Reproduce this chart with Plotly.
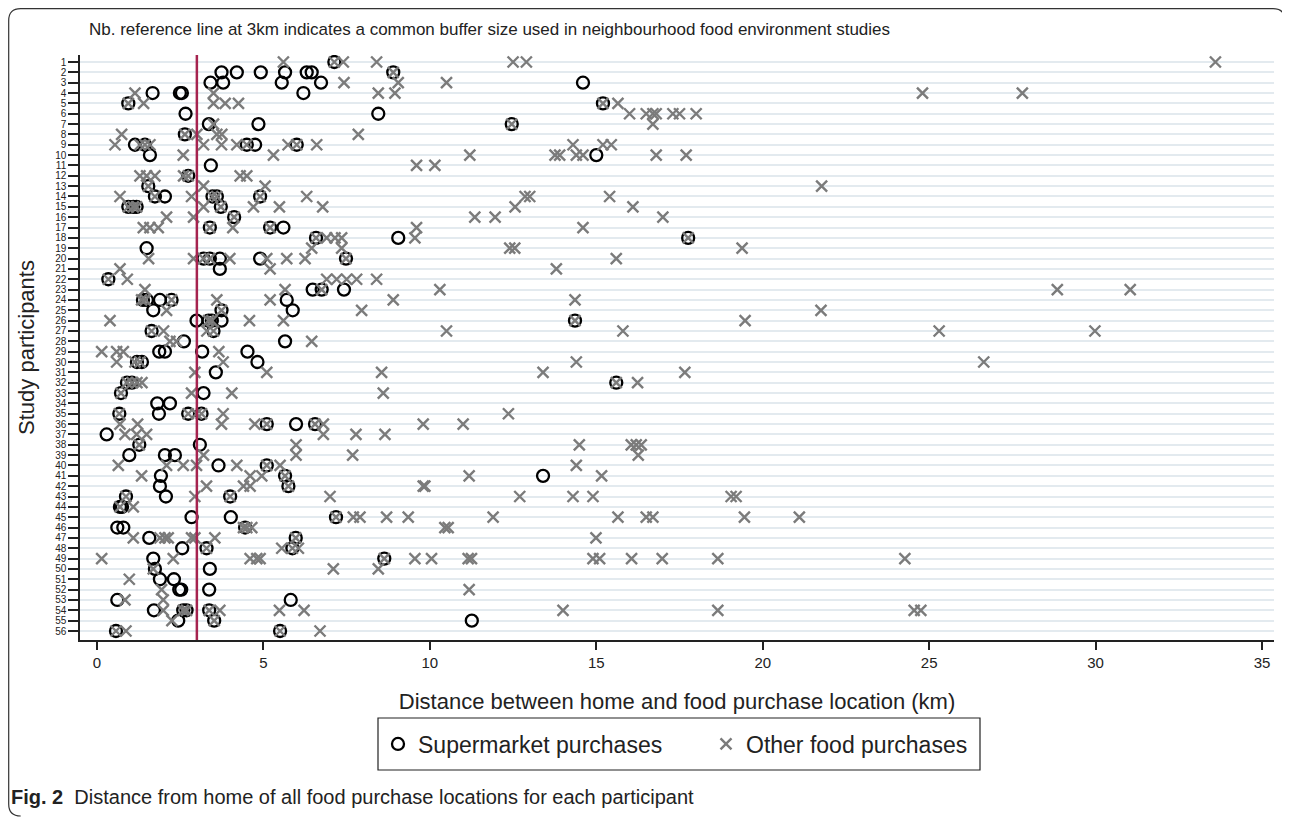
import plotly.graph_objects as go

# ---------------- data (km), one list per participant 1..56 ----------------
participants = list(range(1, 57))

supermarket_km = [
    [7.13],
    [3.74, 4.2, 4.92, 5.65, 6.3, 6.45, 8.9],
    [3.41, 3.79, 5.55, 6.73, 14.6],
    [1.67, 2.49, 2.55, 6.2],
    [0.94, 15.2],
    [2.66, 8.45],
    [3.36, 4.85, 12.46],
    [2.64],
    [1.14, 1.44, 4.5, 4.75, 6.0],
    [1.59, 15.0],
    [3.42],
    [2.74],
    [1.54],
    [1.74, 2.04, 3.47, 3.6, 4.9],
    [0.94, 1.09, 1.19, 3.72],
    [4.12],
    [3.39, 5.2, 5.6],
    [6.58, 9.05, 17.76],
    [1.49],
    [3.2, 3.39, 3.69, 4.9, 7.48],
    [3.69],
    [0.34],
    [6.48, 6.75, 7.42],
    [1.38, 1.5, 1.89, 2.24, 5.7],
    [1.69, 3.74, 5.88],
    [2.99, 3.35, 3.45, 3.74, 14.36],
    [1.64, 3.5],
    [2.61, 5.65],
    [1.87, 2.04, 3.16, 4.52],
    [1.2, 1.35, 4.82],
    [3.57],
    [0.9, 1.05, 15.6],
    [0.72, 3.2],
    [1.81, 2.19],
    [0.67, 1.86, 2.74, 3.14],
    [5.1, 5.98, 6.55],
    [0.29],
    [1.27, 3.09],
    [0.97, 2.04, 2.34],
    [3.65, 5.1],
    [1.92, 5.65, 13.4],
    [1.89, 5.75],
    [0.87, 2.07, 4.0],
    [0.69, 0.75],
    [2.84, 4.02, 7.18],
    [0.61, 0.79, 4.45],
    [1.57, 5.97],
    [2.56, 3.29, 5.87],
    [1.69, 8.63],
    [1.74, 3.39],
    [1.89, 2.31],
    [2.47, 2.53, 3.37],
    [0.61, 5.82],
    [1.71, 2.59, 2.69, 3.37],
    [2.44, 3.52, 11.26],
    [0.57, 5.5],
]

other_km = [
    [5.6, 7.13, 7.4, 8.4, 12.5, 12.9, 33.6],
    [8.9],
    [7.42, 9.05, 10.5],
    [1.14, 3.5, 8.45, 8.95, 24.8, 27.8],
    [0.94, 1.4, 3.5, 3.85, 4.25, 15.2, 15.65],
    [16.0, 16.5, 16.7, 16.8, 17.3, 17.5, 18.0],
    [3.5, 12.46, 16.7],
    [0.74, 2.64, 3.0, 3.6, 3.75, 7.85],
    [0.54, 1.29, 1.44, 1.59, 3.2, 3.74, 4.2, 4.5, 5.74, 6.0, 6.6, 14.3, 15.2, 15.45],
    [2.59, 5.3, 11.2, 13.76, 13.9, 14.4, 14.6, 16.8, 17.7],
    [9.6, 10.15],
    [1.29, 1.49, 1.74, 2.6, 2.74, 4.3, 4.5],
    [1.54, 3.2, 5.05, 21.77],
    [0.69, 1.74, 2.84, 3.47, 3.6, 4.9, 6.3, 12.86, 13.0, 15.4],
    [0.94, 1.09, 1.19, 3.2, 3.72, 4.7, 5.48, 6.78, 12.56, 16.1],
    [2.09, 2.9, 4.12, 11.35, 11.96, 17.0],
    [1.39, 1.59, 1.84, 3.39, 4.08, 5.2, 9.6, 14.6],
    [6.58, 6.9, 7.15, 7.35, 9.55, 17.76],
    [6.45, 7.35, 12.4, 12.55, 19.38],
    [1.55, 2.9, 3.2, 3.39, 3.99, 5.1, 5.7, 6.25, 7.48, 15.6],
    [0.69, 5.2, 13.8],
    [0.34, 0.91, 6.9, 7.2, 7.5, 7.8, 8.4],
    [1.44, 5.65, 6.75, 10.3, 28.85, 31.04],
    [1.34, 1.45, 2.24, 3.6, 5.2, 8.9, 14.36],
    [2.09, 3.74, 7.95, 21.75],
    [0.39, 3.35, 3.45, 4.58, 5.6, 14.36, 19.47],
    [1.64, 2.0, 3.3, 3.5, 10.5, 15.8, 25.3, 29.98],
    [2.19, 2.39, 6.45],
    [0.14, 0.59, 0.79, 3.66],
    [0.59, 1.14, 1.29, 3.79, 14.4, 26.64],
    [2.94, 5.1, 8.55, 13.4, 17.66],
    [0.9, 1.05, 1.2, 1.35, 15.6, 16.24],
    [0.72, 2.84, 4.05, 8.6],
    [],
    [0.67, 2.74, 2.99, 3.14, 3.79, 12.36],
    [0.69, 1.22, 3.74, 4.74, 5.1, 6.55, 6.8, 9.8, 11.0],
    [0.84, 1.19, 1.49, 6.8, 7.78, 8.65],
    [1.27, 5.98, 14.49, 16.05, 16.2, 16.35],
    [3.2, 5.98, 7.68, 16.26],
    [0.64, 2.09, 2.59, 2.99, 4.2, 5.1, 5.5, 14.4],
    [1.34, 4.6, 4.95, 5.65, 11.18, 15.16],
    [3.29, 4.4, 4.6, 5.75, 9.8, 9.85],
    [0.87, 2.94, 4.0, 7.0, 12.7, 14.3, 14.9, 19.05, 19.2],
    [0.69, 1.09],
    [7.18, 7.7, 7.9, 8.7, 9.35, 11.9, 15.65, 16.5, 16.7, 19.45, 21.1],
    [4.4, 4.5, 4.65, 10.45, 10.55],
    [1.09, 1.89, 2.04, 2.14, 2.84, 2.94, 3.54, 5.97, 14.99],
    [3.29, 5.55, 5.87, 6.05],
    [0.14, 2.29, 4.6, 4.8, 4.9, 8.63, 9.55, 10.05, 11.15, 11.25, 14.9, 15.1, 16.06, 16.98, 18.65, 24.27],
    [1.69, 7.1, 8.45],
    [0.97],
    [1.94, 11.18],
    [0.84, 1.99],
    [1.99, 2.59, 2.69, 3.37, 3.69, 5.48, 6.22, 14.0, 18.65, 24.55, 24.75],
    [2.25, 3.52],
    [0.57, 0.87, 5.5, 6.7],
]

x_ticks = [0, 5, 10, 15, 20, 25, 30, 35]
reference_km = 3

# ---------------- flatten ----------------
sx, sy, ox, oy = [], [], [], []
for p, vals in zip(participants, supermarket_km):
    sx += vals
    sy += [p] * len(vals)
for p, vals in zip(participants, other_km):
    ox += vals
    oy += [p] * len(vals)

FONT = "Liberation Sans, Arial, sans-serif"

fig = go.Figure()
fig.add_trace(go.Scatter(
    x=sx, y=sy, mode="markers", name="Supermarket purchases", legend="legend",
    marker=dict(symbol="circle-open", size=12, color="black",
                line=dict(width=2.3, color="black")),
))
fig.add_trace(go.Scatter(
    x=ox, y=oy, mode="markers", name="Other food purchases", legend="legend2",
    marker=dict(symbol="x-thin-open", size=11, color="#7b7b7b",
                line=dict(width=2.4, color="#7b7b7b")),
))

# layout geometry (figure pixels; the page adds an 8px body margin)
OFF = 8
W, H = 1282, 811
L, R, T, B = 72, 16, 47, 179
PW, PH = W - L - R, H - T - B


def px(xp):
    """page x pixel -> paper x"""
    return (xp - OFF - L) / PW


def py(yp):
    """page y pixel -> paper y"""
    return (H - B - (yp - OFF)) / PH


# reference line at 3 km
fig.add_shape(type="line", xref="x", yref="paper", x0=reference_km, x1=reference_km,
              y0=0, y1=1, line=dict(color="#a5234f", width=2.5), layer="above")

# rounded outer frame
l, r, t, b, rad = 8.7, 1285, 8.7, 816, 12
path = (f"M {px(l)},{py(t + rad)} L {px(l)},{py(b - rad)} "
        f"Q {px(l)},{py(b)} {px(l + rad)},{py(b)} "
        f"M {px(l)},{py(t + rad)} Q {px(l)},{py(t)} {px(l + rad)},{py(t)} "
        f"L {px(r - rad)},{py(t)} Q {px(r)},{py(t)} {px(r)},{py(t + rad)} "
        f"L {px(r)},{py(b - rad)}")
fig.add_shape(type="path", xref="paper", yref="paper", path=path,
              line=dict(color="#333333", width=1.2))

# legend box
fig.add_shape(type="rect", xref="paper", yref="paper",
              x0=px(378), x1=px(980), y0=py(718), y1=py(770),
              line=dict(color="#222222", width=1.2))

fig.add_annotation(
    text="Nb. reference line at 3km indicates a common buffer size used in neighbourhood food environment studies",
    xref="paper", yref="paper", x=px(87), y=py(30), xanchor="left", yanchor="middle",
    showarrow=False, font=dict(family=FONT, size=17, color="#222222"))

fig.add_annotation(
    text="<b>Fig. 2</b>  Distance from home of all food purchase locations for each participant",
    xref="paper", yref="paper", x=px(9), y=py(797), xanchor="left", yanchor="middle",
    showarrow=False, font=dict(family=FONT, size=20, color="#222222"))

legend_common = dict(orientation="h", yanchor="middle", y=py(744), xanchor="left",
                     borderwidth=0, bgcolor="rgba(0,0,0,0)", font=dict(size=23),
                     itemwidth=30)

fig.update_layout(
    width=W, height=H,
    margin=dict(l=L, r=R, t=T, b=B),
    paper_bgcolor="white", plot_bgcolor="white",
    font=dict(family=FONT, color="#222222"),
    showlegend=True,
    legend=dict(x=px(378), **legend_common),
    legend2=dict(x=px(706), **legend_common),
    xaxis=dict(range=[-0.511, 35.36], tickvals=x_ticks, ticks="outside", ticklen=8,
               tickwidth=1.5, tickcolor="#222222", showline=True, linecolor="#222222",
               linewidth=1.5, showgrid=False, zeroline=False,
               tickfont=dict(size=15),
               title=dict(text="Distance between home and food purchase location (km)",
                          font=dict(size=22), standoff=24)),
    yaxis=dict(range=[56.87, 0.323], tickvals=participants,
               ticktext=[str(p) for p in participants], ticks="outside", ticklen=10,
               tickwidth=1.5, tickcolor="#222222", showline=True, linecolor="#222222",
               linewidth=1.5, showgrid=True, gridcolor="#e3eaef", gridwidth=2,
               zeroline=False, tickfont=dict(size=10),
               title=dict(text="Study participants", font=dict(size=22), standoff=14)),
)

fig.write_html("out.html")
